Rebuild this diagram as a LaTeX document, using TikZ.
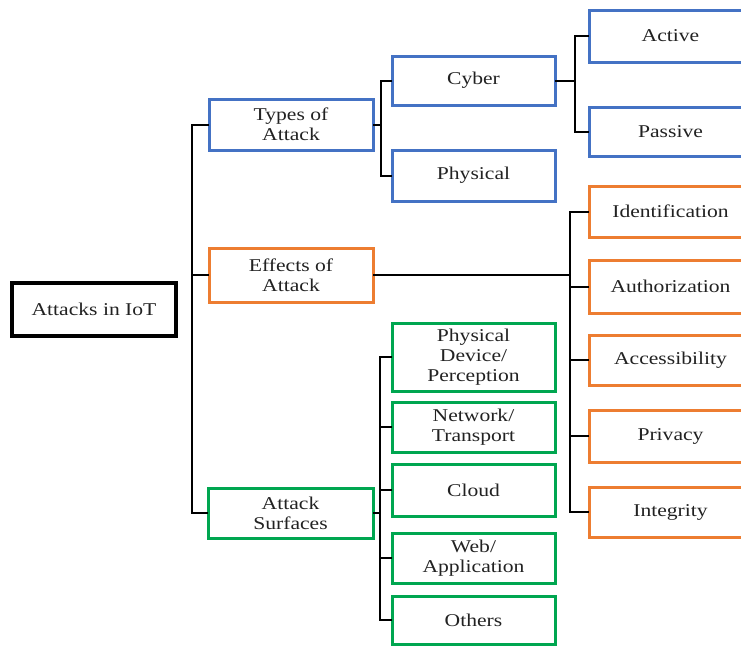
\documentclass[tikz,border=0pt]{standalone}
\usepackage{fontspec}
\setmainfont{Liberation Serif}[FakeStretch=1.2]
\definecolor{cblue}{HTML}{4472C4}
\definecolor{corange}{HTML}{ED7D31}
\definecolor{cgreen}{HTML}{00A650}
\definecolor{ctext}{HTML}{222222}
\begin{document}
\begin{tikzpicture}[x=1pt,y=-1pt,
  box/.style={draw, line width=3pt, inner sep=0pt, outer sep=0pt, align=center, text=ctext,
    font=\fontsize{18}{20}\selectfont},
  bluebox/.style={box, draw=cblue},
  orangebox/.style={box, draw=corange},
  greenbox/.style={box, draw=cgreen},
  conn/.style={draw=black, line width=2pt}]
\clip (0,0) rectangle (741,646);
\fill[white] (0,0) rectangle (741,646);
% root and first level
\node[box, draw=black, line width=3.5pt, minimum width=164pt, minimum height=53pt] (root) at (94,309.5) {Attacks in IoT};
\node[bluebox, minimum width=164pt, minimum height=51pt] (types) at (291,124.5) {Types of\\Attack};
\node[orangebox, minimum width=164pt, minimum height=54pt] (effects) at (291,275) {Effects of\\Attack};
\node[greenbox, minimum width=165pt, minimum height=50pt] (surf) at (290.5,513) {Attack\\Surfaces};
% types of attack
\node[bluebox, minimum width=163pt, minimum height=49pt] (cyber) at (473.5,80.5) {Cyber};
\node[bluebox, minimum width=163pt, minimum height=51pt] (physical) at (473.5,175.5) {Physical};
\node[bluebox, minimum width=163pt, minimum height=52pt] (active) at (670.5,36) {Active};
\node[bluebox, minimum width=163pt, minimum height=49pt] (passive) at (670.5,131.5) {Passive};
% effects
\node[orangebox, minimum width=163pt, minimum height=51pt] (ident) at (670.5,211.5) {Identification};
\node[orangebox, minimum width=163pt, minimum height=53pt] (author) at (670.5,286.5) {Authorization};
\node[orangebox, minimum width=163pt, minimum height=50pt] (access) at (670.5,360) {Accessibility};
\node[orangebox, minimum width=163pt, minimum height=52pt] (privacy) at (670.5,436) {Privacy};
\node[orangebox, minimum width=163pt, minimum height=50pt] (integ) at (670.5,512) {Integrity};
% surfaces
\node[greenbox, minimum width=163pt, minimum height=68pt] (pdev) at (473.5,357) {Physical\\Device/\\Perception};
\node[greenbox, minimum width=163pt, minimum height=50pt] (network) at (473.5,427) {Network/\\Transport};
\node[greenbox, minimum width=163pt, minimum height=52pt] (cloud) at (473.5,490) {Cloud};
\node[greenbox, minimum width=163pt, minimum height=50pt] (web) at (473.5,558) {Web/\\Application};
\node[greenbox, minimum width=163pt, minimum height=48pt] (others) at (473.5,620) {Others};
% connectors: root level
\draw[conn] (types.west) -- ++(-17,0) |- (surf.west);
\draw[conn] (effects.west) -- ++(-17,0);
% types
\draw[conn] (types.east) -- ++(8,0);
\draw[conn] (cyber.west) -- ++(-11,0) |- (physical.west);
% cyber
\draw[conn] (cyber.east) -- ++(20,0);
\draw[conn] (active.west) -- ++(-14,0) |- (passive.west);
% effects
\draw[conn] (effects.east) -- ++(197,0);
\draw[conn] (ident.west) -- ++(-19,0) |- (integ.west);
\foreach \n in {author,access,privacy} \draw[conn] (\n.west) -- ++(-19,0);
% surfaces
\draw[conn] (surf.east) -- ++(7,0);
\draw[conn] (pdev.west) -- ++(-12,0) |- (others.west);
\foreach \n in {network,cloud,web} \draw[conn] (\n.west) -- ++(-12,0);
\end{tikzpicture}
\end{document}
